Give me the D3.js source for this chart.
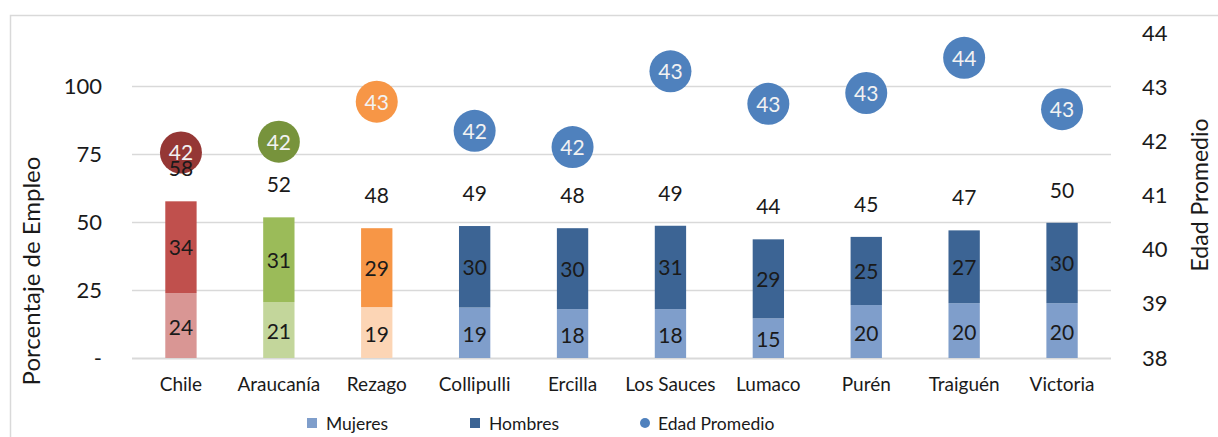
<!DOCTYPE html>
<html>
<head>
<meta charset="utf-8">
<script src="https://cdn.jsdelivr.net/npm/d3@7"></script>
<style>
  html, body { margin: 0; padding: 0; background: #fff; }
  svg { display: block; }
  text { font-family: Lato, "Open Sans", sans-serif; fill: #1a1a1a; }
</style>
</head>
<body>
<svg id="chart" width="1218" height="437"></svg>
<script>
// ---- data ----
const categories = ["Chile", "Araucanía", "Rezago", "Collipulli", "Ercilla", "Los Sauces", "Lumaco", "Purén", "Traiguén", "Victoria"];
const mujeres = [23.9, 20.6, 18.75, 18.6, 18.0, 18.0, 14.6, 19.5, 20.2, 20.2];
const hombres = [33.8, 31.2, 29.05, 30.0, 29.8, 30.7, 29.1, 25.1, 26.8, 29.6];
const edad = [41.8, 42.0, 42.74, 42.2, 41.9, 43.3, 42.7, 42.9, 43.55, 42.6];
const leftTicks = [0, 25, 50, 75, 100];
const leftTickLabels = ["-", "25", "50", "75", "100"];
const rightTicks = [38, 39, 40, 41, 42, 43, 44];
const legendLabels = ["Mujeres", "Hombres", "Edad Promedio"];

// colour schemes per category group
const colMujeres = ["#D99694", "#C3D69B", "#FCD5B5", "#7F9ECB", "#7F9ECB", "#7F9ECB", "#7F9ECB", "#7F9ECB", "#7F9ECB", "#7F9ECB"];
const colHombres = ["#C0504D", "#9BBB59", "#F79646", "#3C6494", "#3C6494", "#3C6494", "#3C6494", "#3C6494", "#3C6494", "#3C6494"];
const colEdad = ["#953735", "#77933C", "#F79646", "#4F81BD", "#4F81BD", "#4F81BD", "#4F81BD", "#4F81BD", "#4F81BD", "#4F81BD"];

const svg = d3.select("#chart");

// frame
svg.append("rect").attr("x", 10.5).attr("y", 15.5).attr("width", 1230).attr("height", 440)
  .attr("fill", "none").attr("stroke", "#D9D9D9").attr("stroke-width", 1.5);

const x0 = 132, x1 = 1111, yTop = 33.5, yBot = 358;
const x = d3.scaleBand().domain(categories).range([x0, x1]).paddingInner(0.68).paddingOuter(0.34);
const yL = d3.scaleLinear().domain([0, 119.5]).range([yBot, yTop]);
const yR = d3.scaleLinear().domain([38, 44]).range([yBot, yTop]);

// gridlines
svg.append("g").selectAll("line").data(leftTicks).join("line")
  .attr("x1", x0).attr("x2", x1)
  .attr("y1", d => Math.round(yL(d)) + 0.5).attr("y2", d => Math.round(yL(d)) + 0.5)
  .attr("stroke", "#D9D9D9").attr("stroke-width", d => d === 0 ? 2 : 1.5);

// left axis
const axL = d3.axisLeft(yL).tickValues(leftTicks).tickFormat((d, i) => leftTickLabels[i]).tickSize(0).tickPadding(0);
const gL = svg.append("g").attr("transform", "translate(102,0)").call(axL);
gL.select(".domain").remove();
gL.selectAll("text").style("font-size", "22px").style("font-family", "Lato, sans-serif").attr("fill", "#1a1a1a");

// right axis
const axR = d3.axisRight(yR).tickValues(rightTicks).tickFormat(d3.format("d")).tickSize(0).tickPadding(0);
const gR = svg.append("g").attr("transform", "translate(1142,0)").call(axR);
gR.select(".domain").remove();
gR.selectAll("text").style("font-size", "22px").style("font-family", "Lato, sans-serif").attr("fill", "#1a1a1a");

// axis titles
svg.append("text").attr("transform", "translate(40,271) rotate(-90)")
  .attr("text-anchor", "middle").style("font-size", "24px").text("Porcentaje de Empleo");
svg.append("text").attr("transform", "translate(1208,195) rotate(-90)")
  .attr("text-anchor", "middle").style("font-size", "23px").text("Edad Promedio");

// category labels
const axB = d3.axisBottom(x).tickSize(0).tickPadding(0);
const gB = svg.append("g").attr("transform", "translate(0,377)").call(axB);
gB.select(".domain").remove();
gB.selectAll("text").style("font-size", "19px").style("font-family", "Lato, sans-serif").attr("fill", "#1a1a1a");

// bars
const data = categories.map((c, i) => ({ c, i, m: mujeres[i], h: hombres[i], e: edad[i] }));
const bars = svg.append("g");
bars.selectAll(".m").data(data).join("rect")
  .attr("x", d => x(d.c)).attr("width", x.bandwidth())
  .attr("y", d => yL(d.m)).attr("height", d => yL(0) - yL(d.m))
  .attr("fill", d => colMujeres[d.i]);
bars.selectAll(".h").data(data).join("rect")
  .attr("x", d => x(d.c)).attr("width", x.bandwidth())
  .attr("y", d => yL(d.m + d.h)).attr("height", d => yL(d.m) - yL(d.m + d.h))
  .attr("fill", d => colHombres[d.i]);

// inside labels
const cx = d => x(d.c) + x.bandwidth() / 2;
bars.selectAll(".ml").data(data).join("text")
  .attr("x", cx).attr("y", d => (yL(0) + yL(d.m)) / 2 + 9)
  .attr("text-anchor", "middle").style("font-size", "21px").text(d => Math.round(d.m));
bars.selectAll(".hl").data(data).join("text")
  .attr("x", cx).attr("y", d => (yL(d.m) + yL(d.m + d.h)) / 2 + 8)
  .attr("text-anchor", "middle").style("font-size", "21px").text(d => Math.round(d.h));

// circles and their labels
const dots = svg.append("g");
dots.selectAll("circle").data(data).join("circle")
  .attr("cx", cx).attr("cy", d => yR(d.e)).attr("r", 21)
  .attr("fill", d => colEdad[d.i]);
dots.selectAll("text").data(data).join("text")
  .attr("x", cx).attr("y", d => yR(d.e) + 8)
  .attr("text-anchor", "middle").style("font-size", "21px").style("fill", "#F2F2F2")
  .text(d => Math.round(d.e));

// total labels (drawn above the circles, as in the reference)
svg.append("g").selectAll("text").data(data).join("text")
  .attr("x", cx).attr("y", d => yL(d.m + d.h) - 25)
  .attr("text-anchor", "middle").style("font-size", "21px").text(d => Math.round(d.m + d.h));

// legend
const lg = svg.append("g");
lg.append("rect").attr("x", 307).attr("y", 418).attr("width", 10).attr("height", 10).attr("fill", "#7F9ECB");
lg.append("text").attr("x", 326).attr("y", 430).style("font-size", "17.5px").text(legendLabels[0]);
lg.append("rect").attr("x", 470).attr("y", 418).attr("width", 10).attr("height", 10).attr("fill", "#3C6494");
lg.append("text").attr("x", 489).attr("y", 430).style("font-size", "17.5px").text(legendLabels[1]);
lg.append("circle").attr("cx", 645).attr("cy", 423).attr("r", 5).attr("fill", "#4F81BD");
lg.append("text").attr("x", 658).attr("y", 430).style("font-size", "17.5px").text(legendLabels[2]);
</script>
</body>
</html>
